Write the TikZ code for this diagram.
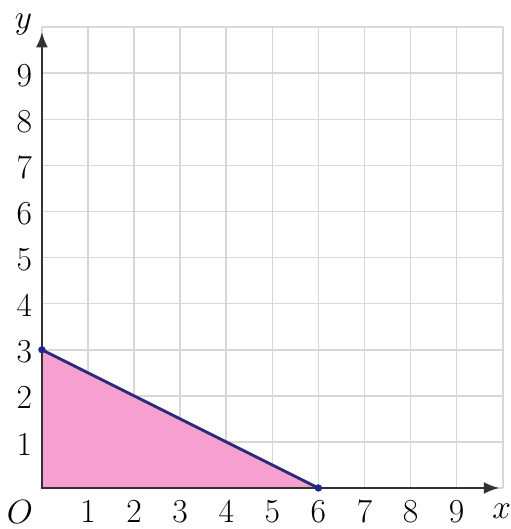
\documentclass[tikz,border=0pt]{standalone}
\usepackage{xcolor}
\definecolor{regionpink}{RGB}{246,160,208}
\definecolor{boundblue}{RGB}{42,44,118}
\definecolor{gridgray}{RGB}{216,216,216}
\definecolor{axisgray}{RGB}{50,50,50}
\tikzset{
  ticklabel/.style={font=\fontsize{20}{22}\selectfont, inner sep=0pt},
  axisline/.style={draw=axisgray, line width=1.6pt, -{Latex[length=3.4mm,width=2.6mm]}},
}
\usetikzlibrary{arrows.meta}
\begin{document}
\begin{tikzpicture}[x=1cm,y=1cm,line cap=round,line join=round]
  \useasboundingbox (-0.91,-0.89) rectangle (10.17,10.59);

  % grid
  \draw[gridgray, line width=1pt] (0,0) grid (10,10);

  % feasible region
  \coordinate (O) at (0,0);
  \coordinate (A) at (0,3);
  \coordinate (B) at (6,0);
  \fill[regionpink] (O) -- (A) -- (B) -- cycle;

  % axes
  \coordinate (xend) at (9.93,0);
  \coordinate (yend) at (0,9.9);
  \draw[axisline] (O) -- (xend);
  \draw[axisline] (O) -- (yend);

  % boundary line
  \draw[boundblue, line width=1.8pt] (A) -- (B);
  \fill[boundblue!80!blue] (A) circle (0.08);
  \fill[boundblue!80!blue] (B) circle (0.08);

  % labels
  \foreach \k in {1,...,9} {
    \node[ticklabel] (xl\k) at (\k,-0.52) {$\k$};
    \node[ticklabel] (yl\k) at (-0.38,\k-0.05) {$\k$};
  }
  \node[ticklabel] (lO) at (-0.48,-0.52) {$O$};
  \node[ticklabel] (lx) at (9.98,-0.5) {$x$};
  \node[ticklabel] (ly) at (-0.4,10.05) {$y$};
\end{tikzpicture}
\end{document}
